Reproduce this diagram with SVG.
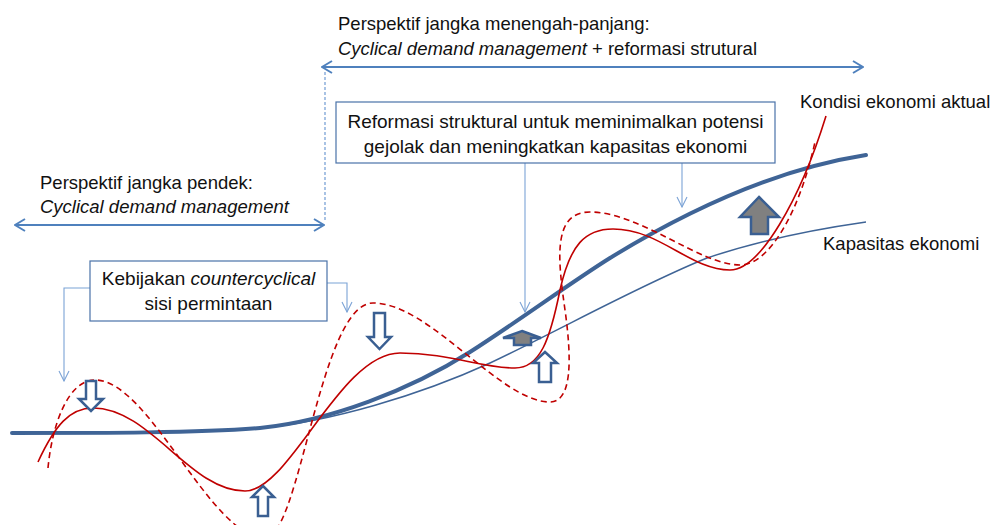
<svg xmlns="http://www.w3.org/2000/svg" width="992" height="525" viewBox="0 0 992 525">
<style>
text{font-family:"Liberation Sans",Arial,sans-serif;font-size:18.5px;fill:#111}
.bx{font-size:19px}
.it{font-style:italic}
.dim{stroke:#4f81bd;stroke-width:2;fill:none}
.con{stroke:#7ba3d6;stroke-width:1.1;fill:none}
.box{fill:#fff;stroke:#4a72a8;stroke-width:1.2}
.thick{stroke:#3f6496;stroke-width:4;fill:none;stroke-linecap:round}
.thin{stroke:#3f6496;stroke-width:1.5;fill:none}
.red{stroke:#c00000;stroke-width:1.6;fill:none}
.reddash{stroke:#c00000;stroke-width:1.6;fill:none;stroke-dasharray:6 4}
.barrow{fill:#fff;stroke:#3a5f92;stroke-width:2.5;stroke-linejoin:miter}
.garrow{fill:#808080;stroke:#3a5f92;stroke-width:2.5}
</style>
<defs>
<marker id="dimhead" viewBox="0 0 12 14" refX="11" refY="7" markerWidth="12" markerHeight="14" markerUnits="userSpaceOnUse" orient="auto-start-reverse">
<path d="M1,1 L11,7 L1,13" fill="none" stroke="#4f81bd" stroke-width="2"/>
</marker>
<marker id="conhead" viewBox="0 0 12 12" refX="11" refY="6" markerWidth="12" markerHeight="12" markerUnits="userSpaceOnUse" orient="auto">
<path d="M1,1 L11,6 L1,11" fill="none" stroke="#7ba3d6" stroke-width="1.1"/>
</marker>
</defs>

<g id="curves">
<path id="capacity-old" class="thin" d="M12,433 C100,433 200,433 260,428 C330,422 420,395 490,363 C560,330 640,285 707,258 C760,240 810,230 866,222"/>
<path id="capacity-new" class="thick" d="M12,433 C100,433 200,433 260,428 C330,421 410,390 470,352 C520,320 570,283 610,258 C680,215 770,170 866,155"/>
<path id="actual-nopolicy" class="reddash" d="M48,468 C52,425 68,380 95,380 C150,380 210,538 265,538 C300,538 320,303 373,303 C430,303 500,402 550,402 C572,402 572,360 565,310 C558,260 552,212 590,212 C640,212 700,265 740,265 C770,265 800,210 815,142"/>
<path id="actual" class="red" d="M38,462 C55,425 70,408 93,408 C150,408 190,491 245,491 C290,491 340,353 400,353 C450,353 480,368 515,368 C540,368 550,340 560,290 C570,245 585,229 613,229 C660,229 690,270 730,270 C760,270 800,200 826,116"/>
</g>

<g id="block-arrows">
<polygon class="barrow" points="86,381 96,381 96,399 103,399 91,411 79,399 86,399"/>
<polygon class="barrow" points="263,486 274,497 268,497 268,516 258,516 258,497 252,497"/>
<polygon class="barrow" points="374,313 385,313 385,337 391,337 379.5,349 368,337 374,337"/>
<polygon class="barrow" points="545,352 557,363 551,363 551,382 539,382 539,363 533,363"/>
<polygon class="garrow" points="522,331 541,338 531,338 531,345 514,345 514,338 503,338"/>
<polygon class="garrow" points="759,197 779,217 768,217 768,234 751,234 751,217 740,217"/>
</g>

<g id="connectors">
<line class="dim" x1="322" y1="67" x2="863" y2="67" marker-start="url(#dimhead)" marker-end="url(#dimhead)"/>
<line class="dim" x1="15" y1="225" x2="324" y2="225" marker-start="url(#dimhead)" marker-end="url(#dimhead)"/>
<line x1="325" y1="72" x2="325" y2="222" stroke="#7ba3d6" stroke-width="1.3" stroke-dasharray="3 2"/>
<path class="con" d="M525,163 L525,312" marker-end="url(#conhead)"/>
<path class="con" d="M682,163 L682,207" marker-end="url(#conhead)"/>
<path class="con" d="M90,288 L64,288 L64,381" marker-end="url(#conhead)"/>
<path class="con" d="M327,283 L347,283 L347,312" marker-end="url(#conhead)"/>
</g>

<g id="label-top">
<text x="338" y="30">Perspektif jangka menengah-panjang:</text>
<text x="338" y="55"><tspan class="it">Cyclical demand management</tspan> + reformasi strutural</text>
</g>
<g id="label-short">
<text x="40" y="189">Perspektif jangka pendek:</text>
<text x="40" y="213" class="it">Cyclical demand management</text>
</g>
<g id="box-reformasi">
<rect class="box" x="336" y="102" width="439" height="61"/>
<text class="bx" x="555.5" y="128" text-anchor="middle">Reformasi struktural untuk meminimalkan potensi</text>
<text class="bx" x="555.5" y="153" text-anchor="middle">gejolak dan meningkatkan kapasitas ekonomi</text>
</g>
<g id="box-kebijakan">
<rect class="box" x="90" y="261" width="237" height="60"/>
<text class="bx" x="208.5" y="285" text-anchor="middle">Kebijakan <tspan class="it">countercyclical</tspan></text>
<text class="bx" x="208.5" y="310" text-anchor="middle">sisi permintaan</text>
</g>
<g id="label-kondisi">
<text x="800" y="108">Kondisi ekonomi aktual</text>
</g>
<g id="label-kapasitas">
<text x="823" y="250">Kapasitas ekonomi</text>
</g>
</svg>
